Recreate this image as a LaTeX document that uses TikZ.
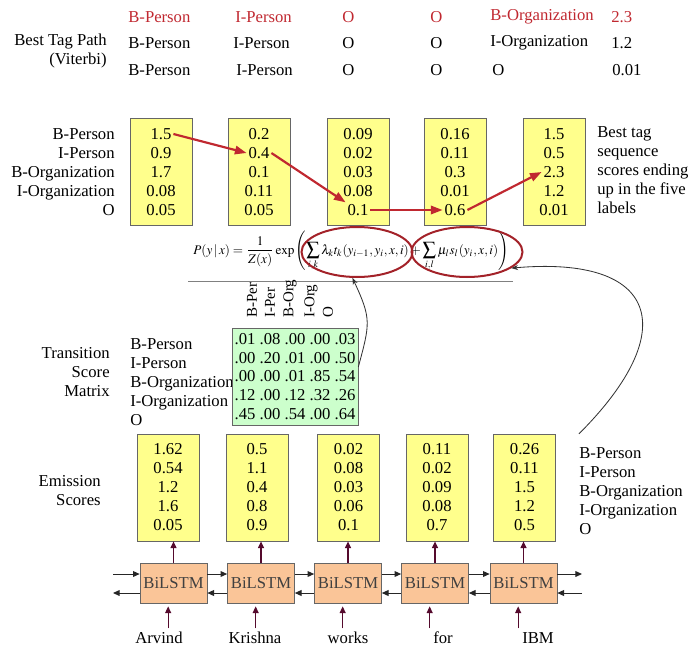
\documentclass[tikz,border=0pt]{standalone}
\usepackage{mathptmx}
\usepackage{fontspec}
\setmainfont{Liberation Serif}
\usetikzlibrary{arrows.meta}
\usetikzlibrary{shapes.geometric}

\definecolor{bestred}{RGB}{192,40,48}
\definecolor{scoreyellow}{RGB}{255,255,140}
\definecolor{matgreen}{RGB}{204,255,204}
\definecolor{lstmpeach}{RGB}{250,197,152}
\definecolor{feedcol}{RGB}{85,10,45}

\begin{document}
\begin{tikzpicture}[
      x=0.6pt, y=-0.6pt,
      every node/.style={font=\fontsize{10}{11.4}\selectfont, inner sep=0pt},
      scorebox/.style={rectangle, draw=black!60, fill=scoreyellow, minimum width=37.2pt, minimum height=64.2pt, align=center},
      lstm/.style={rectangle, draw=black!60, fill=lstmpeach, minimum width=40.2pt, minimum height=24pt, text=black!75},
      circ/.style={ellipse, draw=bestred!85!black, line width=1.2pt, minimum width=66.6pt, minimum height=30pt},
      redarrow/.style={-{Triangle[length=7pt,width=5pt]}, bestred, line width=1.3pt},
      flow/.style={-{Triangle[length=4pt,width=3.5pt]}, black!85, line width=0.6pt},
      feed/.style={-{Triangle[length=4pt,width=3.5pt]}, feedcol, line width=0.8pt},
      curvearrow/.style={-{Stealth[length=4pt,width=3pt]}, black!80, line width=0.5pt}
    ]
    \useasboundingbox (0,0) rectangle (693,653);

    % Viterbi paths
    \node[anchor=east, align=right] (pathlab) at (107,51) {Best Tag Path\\(Viterbi)};
    \foreach \x/\lab [count=\i] in {128/B-Person, 235/I-Person, 342/O, 430/O, 490/B-Organization, 611/2.3}
      \node[anchor=west, text=bestred] (best\i) at (\x,17) {\lab};
    \foreach \x/\lab [count=\i] in {128/B-Person, 233/I-Person, 342/O, 430/O, 490/I-Organization, 611/1.2}
      \node[anchor=west] (second\i) at (\x,43) {\lab};
    \foreach \x/\lab [count=\i] in {128/B-Person, 236/I-Person, 342/O, 430/O, 492/O, 612/0.01}
      \node[anchor=west] (third\i) at (\x,70) {\lab};

    % Viterbi scores
    \node[anchor=east, align=right] (taglab) at (115,172) {B-Person\\I-Person\\B-Organization\\I-Organization\\O};
    \foreach \c/\x/\vals in {1/161/{1.5,0.9,1.7,0.08,0.05}, 2/259/{0.2,0.4,0.1,0.11,0.05},
        3/358/{0.09,0.02,0.03,0.08,0.1}, 4/455/{0.16,0.11,0.3,0.01,0.6}, 5/554/{1.5,0.5,2.3,1.2,0.01}} {
      \node[scorebox] (vb\c) at (\x,172) {};
      \foreach \v [count=\r] in \vals
        \node[inner sep=1pt] (v\c-\r) at (\x,115+19*\r) {\v};
    }
    \node[anchor=west, align=left] (bestlab) at (597,170) {Best tag\\sequence\\scores ending\\up in the five\\labels};

    \draw[redarrow] (v1-1.east) -- (v2-2.west);
    \draw[redarrow] (v2-2.east) -- (v3-5.north west);
    \draw[redarrow] (v3-5.east) -- (v4-5.west);
    \draw[redarrow] (v4-5.east) -- (v5-3.west);

    % CRF formula
    \node (crf) at (351,251) {\fontsize{7.9}{10}\selectfont
      $\displaystyle P(y\,|\,x)=\frac{1}{Z(x)}\exp\left(\sum_{i,k}\lambda_k t_k(y_{i-1},y_i,x,i)+\sum_{i,l}\mu_l s_l(y_i,x,i)\right)$};
    \node[circ] (ell1) at (357,252) {};
    \node[circ] (ell2) at (467,252) {};
    \draw[black!50] (188,281) -- (513,281);

    % transition matrix
    \foreach \x/\lab [count=\i] in {252/B-Per, 270/I-Per, 290/B-Org, 311/I-Org, 328/O}
      \node[rotate=90, anchor=west, font=\fontsize{9}{10}\selectfont] (col\i) at (\x,318) {\lab};
    \node[anchor=east, align=right] (translab) at (110,372) {Transition\\Score\\Matrix};
    \node[anchor=west, align=left] (rowlab) at (130,382) {B-Person\\I-Person\\B-Organization\\I-Organization\\O};
    \node[draw=black!60, fill=matgreen, align=left, inner xsep=1pt, minimum width=75.6pt, minimum height=58.2pt,
      font=\fontsize{10}{11.2}\selectfont] (trans) at (295,376.5)
      {.01 .08 .00 .00 .03\\.00 .20 .01 .00 .50\\.00 .00 .01 .85 .54\\.12 .00 .12 .32 .26\\.45 .00 .54 .00 .64};

    % emission scores
    \node[anchor=east, align=right] (emlab) at (101,491) {Emission\\Scores};
    \foreach \c/\x/\vals in {1/168/{1.62\\0.54\\1.2\\1.6\\0.05}, 2/257/{0.5\\1.1\\0.4\\0.8\\0.9},
        3/348.5/{0.02\\0.08\\0.03\\0.06\\0.1}, 4/437/{0.11\\0.02\\0.09\\0.08\\0.7}, 5/524.5/{0.26\\0.11\\1.5\\1.2\\0.5}}
      \node[scorebox] (e\c) at (\x,487.5) {\vals};
    \node[anchor=west, align=left] (emtags) at (579,491) {B-Person\\I-Person\\B-Organization\\I-Organization\\O};

    \draw[curvearrow] ([yshift=5.7pt]trans.east) to[out=75, in=-65, looseness=1.3] (ell1.-100);
    \draw[curvearrow] ([yshift=8pt]emtags.north west) to[out=45, in=5, looseness=2.1] (ell2.-20);

    % BiLSTM layer
    \foreach \c/\x in {1/173.5, 2/261, 3/348, 4/435, 5/523.5}
      \node[lstm] (l\c) at (\x,583) {BiLSTM};
    \foreach \c/\x/\w in {1/159/Arvind, 2/255/Krishna, 3/348/works, 4/443/for, 5/538/IBM}
      \node[anchor=base] (w\c) at (\x,643) {\w};
    \coordinate (leftend) at (113,583);
    \coordinate (rightend) at (582,583);

    \foreach \c in {1,...,5} {
      \draw[feed] (l\c.north) -- (l\c.north |- e\c.south);
      \draw[feed] ([xshift=-3.2pt,yshift=-15pt]l\c.south) -- ([xshift=-3.2pt,yshift=-1.8pt]l\c.south);
    }
    \foreach \a/\b in {1/2, 2/3, 3/4, 4/5} {
      \draw[flow] ([yshift=5.4pt]l\a.east) -- ([yshift=5.4pt]l\b.west);
      \draw[flow] ([yshift=-6pt]l\b.west) -- ([yshift=-6pt]l\a.east);
    }
    \draw[flow] ([yshift=5.4pt]leftend) -- ([yshift=5.4pt]l1.west);
    \draw[flow] ([yshift=-6pt]l1.west) -- ([yshift=-6pt]leftend);
    \draw[flow] ([yshift=5.4pt]l5.east) -- ([yshift=5.4pt]rightend);
    \draw[flow] ([yshift=-6pt]rightend) -- ([yshift=-6pt]l5.east);

  \end{tikzpicture}
\end{document}
